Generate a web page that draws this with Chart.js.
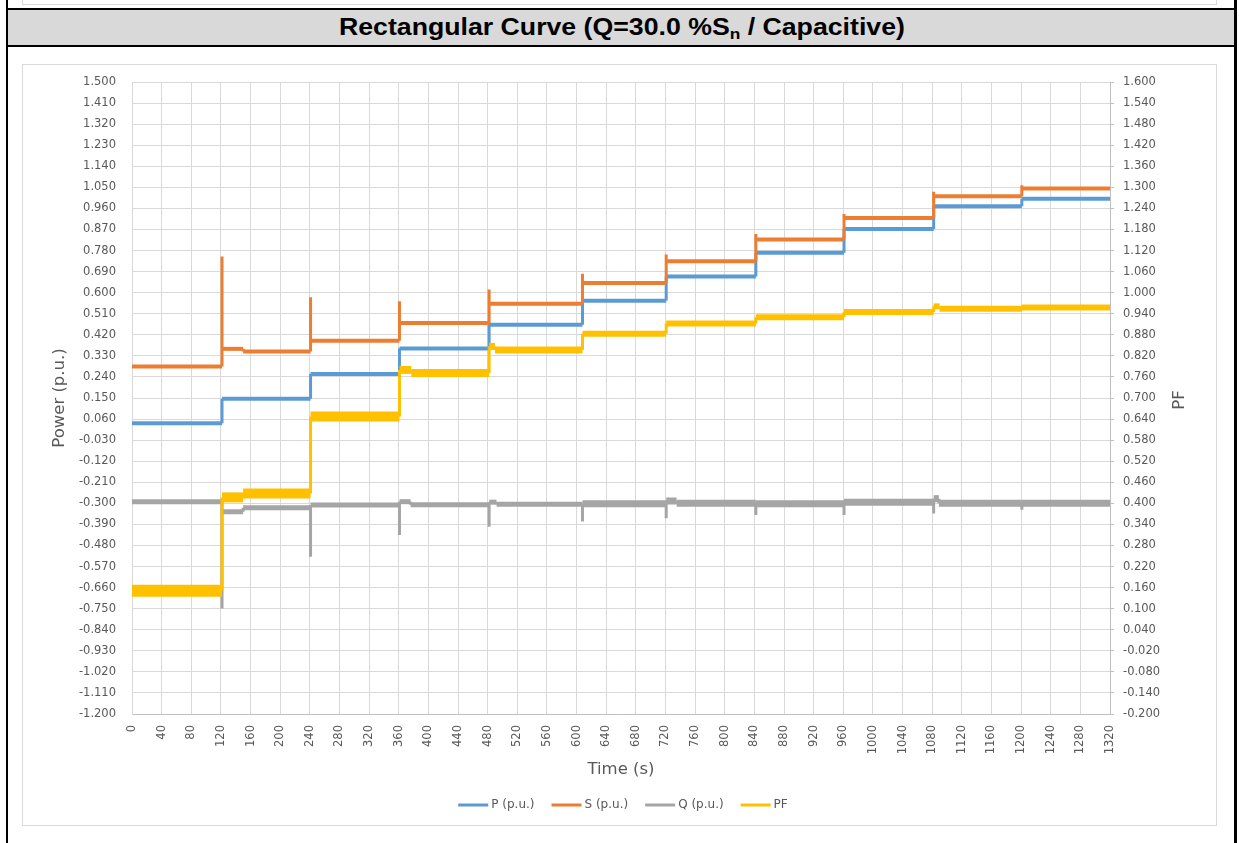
<!DOCTYPE html>
<html>
<head>
<meta charset="utf-8">
<script src="https://cdn.jsdelivr.net/npm/chart.js@4.4.1/dist/chart.umd.min.js"></script>
<style>
  html, body { margin: 0; padding: 0; background: #fff; }
  body { width: 1239px; height: 843px; position: relative; overflow: hidden; }
  .prev { position: absolute; left: 22px; top: -2px; width: 1195px; height: 7px; border: 1px solid #d9d9d9; box-sizing: border-box; }
  .frame-l { position: absolute; left: 6px; top: 0; width: 2px; height: 843px; background: #000; }
  .frame-r { position: absolute; left: 1234px; top: 0; width: 3px; height: 843px; background: #000; }
  .head { position: absolute; left: 6px; top: 8px; width: 1231px; height: 39px; box-sizing: border-box;
          background: #d9d9d9; border-top: 2px solid #000; border-bottom: 2px solid #000;
          display: flex; align-items: center; justify-content: center; }
  .ttl { font: bold 23px "Liberation Sans", Arial, sans-serif; color: #000; transform: scaleX(1.16); white-space: nowrap; }
  .ttl sub { font-size: 0.65em; vertical-align: -0.25em; line-height: 0; }
  .box { position: absolute; left: 22px; top: 64px; width: 1195px; height: 762px; border: 1px solid #d9d9d9; box-sizing: border-box; }
  .plot { position: absolute; left: 22px; top: 64px; width: 1195px; height: 762px; }
</style>
</head>
<body>
<div class="prev"></div>
<div class="head"><span class="ttl">Rectangular Curve (Q=30.0 %S<sub>n</sub> / Capacitive)</span></div>
<div class="frame-l"></div>
<div class="frame-r"></div>
<div class="box"></div>
<div class="plot"><canvas id="chart"></canvas></div>
<script>
// Active power P (p.u.)
const pTime  = [0, 121.5, 121.5, 241, 241, 361, 361, 482, 482, 608, 608, 721, 721, 842, 842, 961, 961, 1082, 1082, 1201, 1201, 1320];
const pValue = [0.042, 0.042, 0.147, 0.147, 0.253, 0.253, 0.362, 0.362, 0.463, 0.463, 0.566, 0.566, 0.669, 0.669, 0.770, 0.770, 0.872, 0.872, 0.969, 0.969, 1.001, 1.001];

// Apparent power S (p.u.), with the overshoot at each set-point change
const sTime  = [0, 121.5, 121.5, 121.5, 150, 150, 241, 241, 241, 361, 361, 361, 482, 482, 482, 608, 608, 608, 721, 721, 721, 842, 842, 842, 961, 961, 961, 1082, 1082, 1082, 1201, 1201, 1201, 1320];
const sValue = [0.285, 0.285, 0.755, 0.360, 0.360, 0.349, 0.349, 0.580, 0.395, 0.395, 0.563, 0.470, 0.470, 0.613, 0.553, 0.553, 0.681, 0.641, 0.641, 0.763, 0.734, 0.734, 0.851, 0.827, 0.827, 0.936, 0.919, 0.919, 1.031, 1.012, 1.012, 1.059, 1.045, 1.045];

// Reactive power Q (p.u.)
const qTime  = [0, 121.5, 121.5, 121.5, 150, 150, 241, 241, 241, 361, 361, 361, 376, 376, 482, 482, 482, 492, 492, 608, 608, 608, 721, 721, 721, 735, 735, 842, 842, 842, 961, 961, 961, 1082, 1082, 1082, 1089, 1089, 1201, 1201, 1201, 1320];
const qValue = [-0.293, -0.293, -0.749, -0.336, -0.336, -0.319, -0.319, -0.528, -0.307, -0.307, -0.435, -0.293, -0.293, -0.306, -0.306, -0.400, -0.295, -0.295, -0.304, -0.304, -0.378, -0.302, -0.302, -0.364, -0.290, -0.290, -0.300, -0.300, -0.350, -0.302, -0.302, -0.350, -0.295, -0.295, -0.343, -0.280, -0.280, -0.300, -0.300, -0.327, -0.300, -0.300];

// Power factor (secondary axis)
const fTime  = [0, 121.5, 121.5, 150, 150, 241, 241, 361, 361, 377, 377, 482, 482, 490, 490, 608, 608, 721, 721, 842, 842, 961, 961, 1082, 1082, 1090, 1090, 1201, 1201, 1320];
const fValue = [0.151, 0.151, 0.417, 0.417, 0.428, 0.428, 0.647, 0.647, 0.780, 0.780, 0.771, 0.771, 0.847, 0.847, 0.837, 0.837, 0.883, 0.883, 0.912, 0.912, 0.930, 0.930, 0.945, 0.945, 0.961, 0.961, 0.954, 0.954, 0.958, 0.958];

const seriesNames  = ['P (p.u.)', 'S (p.u.)', 'Q (p.u.)', 'PF'];
const seriesColors = ['#5B9BD5', '#ED7D31', '#A5A5A5', '#FFC000'];

// Axis ranges: [min, max, step]
const timeRange  = [0, 1320, 40];
const powerRange = [-1.2, 1.5, 0.09];
const pfRange    = [-0.2, 1.6, 0.06];

const toPoints = (xs, ys) => xs.map((x, i) => ({ x, y: ys[i] }));

const TEXT = '#595959';
const FONT = '"DejaVu Sans", sans-serif';

// Noise band of each trace shown as a wider stroke; transitions stay thin
const bandWidth = (limits, widths, thin) => (ctx) => {
  if (Math.abs(ctx.p1.parsed.x - ctx.p0.parsed.x) < 2) return thin;
  const t = ctx.p0.parsed.x;
  for (let i = 0; i < limits.length; i++) if (t < limits[i]) return widths[i];
  return widths[widths.length - 1];
};

const titlesAndLegend = {
  id: 'titlesAndLegend',
  afterDraw(chart) {
    const { ctx, chartArea: a } = chart;
    ctx.save();
    ctx.fillStyle = TEXT;
    ctx.textAlign = 'center';
    ctx.textBaseline = 'middle';
    ctx.font = '16.5px ' + FONT;
    const midY = (a.top + a.bottom) / 2;
    ctx.save(); ctx.translate(38, midY); ctx.rotate(-Math.PI / 2); ctx.fillText('Power (p.u.)', 0, 0); ctx.restore();
    ctx.save(); ctx.translate(1158, midY + 2); ctx.rotate(-Math.PI / 2); ctx.fillText('PF', 0, 0); ctx.restore();
    const midX = (a.left + a.right) / 2;
    ctx.fillText('Time (s)', midX, a.bottom + 56);

    // legend row
    ctx.font = '12px ' + FONT;
    const lineLen = 30, gap = 3, spacing = 17;
    const widths = seriesNames.map(n => lineLen + gap + ctx.measureText(n).width);
    const total = widths.reduce((s, w) => s + w, 0) + spacing * (widths.length - 1);
    let x = midX + 2 - total / 2;
    const y = a.bottom + 91;
    ctx.textAlign = 'left';
    seriesNames.forEach((n, i) => {
      ctx.strokeStyle = seriesColors[i];
      ctx.lineWidth = 3;
      ctx.beginPath(); ctx.moveTo(x, y); ctx.lineTo(x + lineLen, y); ctx.stroke();
      ctx.fillText(n, x + lineLen + gap, y);
      x += widths[i] + spacing;
    });
    ctx.restore();
  }
};

new Chart(document.getElementById('chart'), {
  type: 'line',
  data: {
    datasets: [
      { label: seriesNames[0], data: toPoints(pTime, pValue), yAxisID: 'y', borderColor: seriesColors[0], borderWidth: 4, order: 3,
        segment: { borderWidth: bandWidth([], [4], 3) } },
      { label: seriesNames[1], data: toPoints(sTime, sValue), yAxisID: 'y', borderColor: seriesColors[1], borderWidth: 4, order: 2,
        segment: { borderWidth: bandWidth([], [4], 3) } },
      { label: seriesNames[2], data: toPoints(qTime, qValue), yAxisID: 'y', borderColor: seriesColors[2], borderWidth: 5, order: 1,
        segment: { borderWidth: bandWidth([600], [5, 7], 3) } },
      { label: seriesNames[3], data: toPoints(fTime, fValue), yAxisID: 'y1', borderColor: seriesColors[3], borderWidth: 6, order: 0,
        segment: { borderWidth: bandWidth([121, 361, 482, 608], [12, 10, 8, 7, 6], 3) } }
    ]
  },
  options: {
    responsive: true,
    maintainAspectRatio: false,
    animation: false,
    events: [],
    layout: { padding: { top: 18, left: 0, right: 0, bottom: 0 } },
    elements: { point: { radius: 0 }, line: { tension: 0, fill: false } },
    plugins: { legend: { display: false }, tooltip: { enabled: false } },
    scales: {
      x: {
        type: 'linear',
        min: timeRange[0], max: timeRange[1],
        afterFit: (s) => { s.height = 112; },
        grid: { color: '#d9d9d9', drawTicks: false },
        border: { color: '#bfbfbf' },
        ticks: {
          stepSize: timeRange[2], autoSkip: false, minRotation: 90, maxRotation: 90, padding: 11,
          color: TEXT, font: { family: FONT, size: 11.5 },
          callback: (v) => String(Math.round(v))
        }
      },
      y: {
        type: 'linear', position: 'left',
        min: powerRange[0], max: powerRange[1],
        afterFit: (s) => { s.width = 110; },
        grid: { color: '#d9d9d9', drawTicks: true, tickLength: 12, tickColor: 'rgba(0,0,0,0)' },
        border: { color: '#d9d9d9' },
        ticks: { stepSize: powerRange[2], padding: 4, color: TEXT, font: { family: FONT, size: 11.5 },
                 callback: (v) => v.toFixed(3) }
      },
      y1: {
        type: 'linear', position: 'right',
        min: pfRange[0], max: pfRange[1],
        afterFit: (s) => { s.width = 107; },
        grid: { drawOnChartArea: false, drawTicks: true, tickLength: 4, color: '#bfbfbf' },
        border: { color: '#bfbfbf' },
        ticks: { stepSize: pfRange[2], padding: 9, color: TEXT, font: { family: FONT, size: 11.5 },
                 callback: (v) => v.toFixed(3) }
      }
    }
  },
  plugins: [titlesAndLegend]
});
</script>
</body>
</html>
